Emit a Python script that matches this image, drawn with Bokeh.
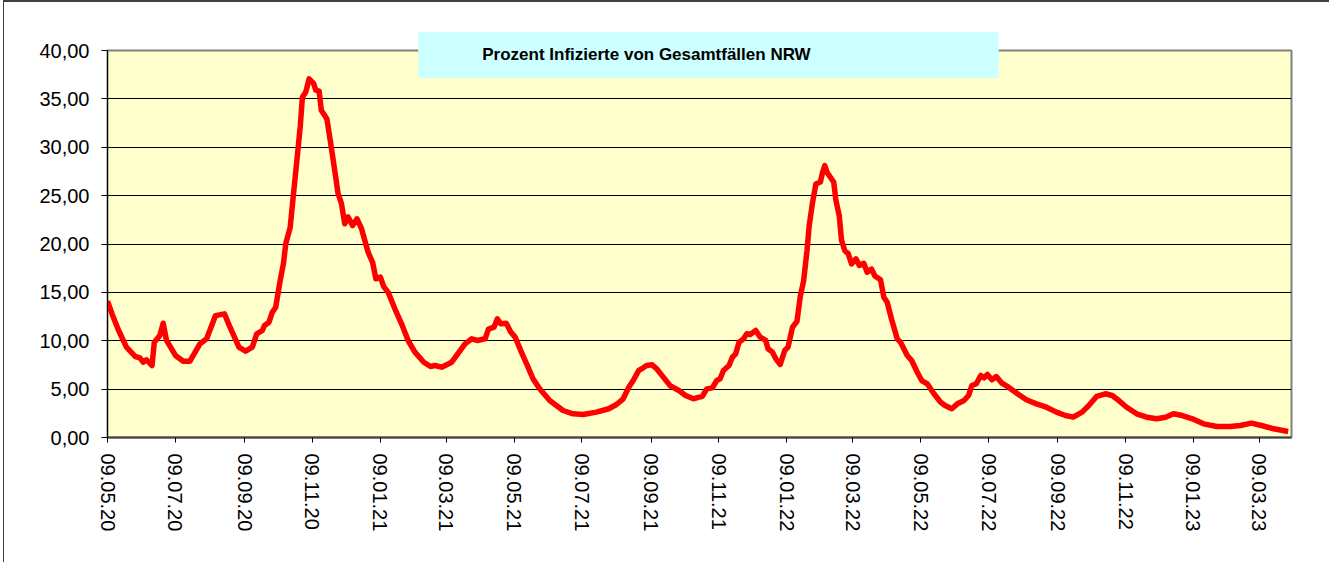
from datetime import datetime
from bokeh.plotting import figure
from bokeh.models import Range1d, FixedTicker, Label
from bokeh.embed import file_html
from bokeh.resources import INLINE

# ---------------- data ----------------
start_date = "09.05.20"
end_date = "07.04.23"

# days since start_date
day = [0, 4, 10, 17, 25, 29, 32, 35, 40, 42, 47, 50, 53, 61, 68, 74, 83, 89, 97, 105,
       110, 118, 124, 130, 134, 139, 141, 145, 148, 151, 155, 158, 160, 164, 167, 170, 173, 175, 178, 181,
       185, 187, 190, 192, 195, 197, 200, 204, 207, 210, 213, 216, 220, 224, 228, 234, 238, 241, 245, 248,
       252, 258, 264, 270, 276, 284, 290, 294, 300, 309, 321, 327, 332, 339, 342, 347, 350, 353, 358, 362,
       366, 371, 377, 382, 388, 397, 409, 418, 427, 439, 450, 457, 463, 468, 472, 477, 481, 484, 489, 493,
       499, 505, 513, 519, 526, 531, 534, 538, 543, 547, 550, 553, 558, 561, 564, 567, 571, 574, 577, 582,
       586, 591, 593, 597, 600, 604, 608, 611, 615, 619, 622, 625, 628, 630, 633, 636, 640, 642, 644, 646,
       649, 652, 654, 657, 659, 662, 665, 668, 672, 675, 679, 682, 686, 689, 694, 697, 700, 704, 709, 712,
       718, 722, 727, 731, 736, 742, 748, 752, 758, 763, 769, 773, 776, 780, 784, 787, 790, 794, 798, 803,
       809, 817, 825, 834, 843, 852, 860, 867, 875, 881, 888, 896, 902, 908, 915, 924, 933, 942, 950, 957,
       965, 974, 984, 996, 1008, 1017, 1027, 1036, 1047, 1060]

pct = [14.1, 12.8, 11.06, 9.34, 8.37, 8.24, 7.79, 8.03, 7.44, 9.85, 10.54, 11.81, 10.03, 8.48, 7.89, 7.89, 9.68, 10.2, 12.6, 12.78,
       11.4, 9.34, 8.92, 9.34, 10.72, 11.06, 11.58, 11.92, 12.95, 13.47, 16.2, 18.0, 20.0, 21.7, 25.2, 28.6, 32.1, 35.2, 35.7, 37.07,
       36.6, 35.9, 35.8, 33.8, 33.3, 32.9, 30.7, 27.6, 25.2, 24.2, 22.1, 22.8, 21.9, 22.6, 21.6, 19.15, 18.1, 16.4, 16.57, 15.6,
       15.0, 13.3, 11.75, 10.0, 8.82, 7.78, 7.34, 7.44, 7.27, 7.78, 9.68, 10.2, 10.03, 10.2, 11.2, 11.4, 12.27, 11.75, 11.8, 10.9,
       10.37, 8.99, 7.44, 6.07, 5.03, 3.82, 2.79, 2.45, 2.38, 2.62, 2.97, 3.41, 4.0, 5.2, 5.89, 6.93, 7.2, 7.44, 7.51, 7.1,
       6.24, 5.37, 4.86, 4.34, 4.0, 4.17, 4.24, 5.03, 5.13, 5.89, 6.07, 6.93, 7.44, 8.3, 8.65, 9.85, 10.2, 10.72, 10.65, 11.06,
       10.37, 10.03, 9.17, 8.82, 8.13, 7.55, 8.99, 9.34, 11.4, 12.0, 14.6, 16.2, 19.3, 21.9, 24.3, 26.2, 26.4, 27.4, 28.1, 27.4,
       26.9, 26.4, 24.5, 22.9, 20.4, 19.3, 19.0, 17.95, 18.47, 17.78, 18.0, 17.09, 17.4, 16.7, 16.3, 14.5, 13.98, 12.2, 10.2, 9.85,
       8.48, 7.96, 6.75, 5.89, 5.55, 4.52, 3.65, 3.31, 2.97, 3.48, 3.82, 4.34, 5.37, 5.55, 6.41, 6.17, 6.51, 5.96, 6.3, 5.61,
       5.2, 4.52, 3.9, 3.48, 3.13, 2.62, 2.27, 2.1, 2.62, 3.31, 4.24, 4.52, 4.34, 3.82, 3.13, 2.45, 2.1, 1.93, 2.1, 2.45,
       2.27, 1.93, 1.41, 1.14, 1.14, 1.24, 1.48, 1.24, 0.9, 0.62]

x_tick_labels = ["09.05.20", "09.07.20", "09.09.20", "09.11.20", "09.01.21", "09.03.21",
                 "09.05.21", "09.07.21", "09.09.21", "09.11.21", "09.01.22", "09.03.22",
                 "09.05.22", "09.07.22", "09.09.22", "09.11.22", "09.01.23", "09.03.23"]
y_ticks = [0, 5, 10, 15, 20, 25, 30, 35, 40]
y_tick_labels = ["0,00", "5,00", "10,00", "15,00", "20,00", "25,00", "30,00", "35,00", "40,00"]
title_text = "Prozent Infizierte von Gesamtfällen NRW"

# ---------------- helpers ----------------
def to_day(s):
    return (datetime.strptime(s, "%d.%m.%y") - datetime.strptime(start_date, "%d.%m.%y")).days

x_ticks = [to_day(s) for s in x_tick_labels]

FONT = "Liberation Sans"

p = figure(width=1326, height=562,
           x_range=Range1d(0, to_day(end_date)), y_range=Range1d(0, 40),
           output_backend="svg", toolbar_location=None,
           min_border_left=103, min_border_right=39, min_border_top=48, min_border_bottom=127,
           background_fill_color="#FFFFCC", border_fill_color="white",
           outline_line_color="#808080", outline_line_width=2)
p.styles = {"margin-left": "3px", "border-left": "1px solid #404040",
            "border-top": "2px solid #404040"}

# grid
p.xgrid.visible = False
p.ygrid.ticker = FixedTicker(ticks=y_ticks)
p.ygrid.grid_line_color = "#000000"
p.ygrid.grid_line_width = 1

# x axis
p.xaxis.ticker = FixedTicker(ticks=x_ticks)
p.xaxis.major_label_overrides = {t: l for t, l in zip(x_ticks, x_tick_labels)}
p.xaxis.major_label_orientation = "vertical"
p.xaxis.major_tick_out = 5
p.xaxis.major_tick_in = 0
p.xaxis.minor_tick_line_color = None
p.xaxis.major_label_standoff = 11
p.xaxis.axis_line_color = "#404040"
p.xaxis.axis_line_width = 2
p.xaxis.major_tick_line_color = "#000000"

# y axis
p.yaxis.ticker = FixedTicker(ticks=y_ticks)
p.yaxis.major_label_overrides = {t: l for t, l in zip(y_ticks, y_tick_labels)}
p.yaxis.major_tick_out = 6
p.yaxis.major_tick_in = 0
p.yaxis.minor_tick_line_color = None
p.yaxis.major_label_standoff = 12
p.yaxis.axis_line_color = "#000000"
p.yaxis.major_tick_line_color = "#000000"

for ax in (p.xaxis, p.yaxis):
    ax.major_label_text_font = FONT
    ax.major_label_text_font_size = "20px"
    ax.major_label_text_color = "#000000"

# data line
p.line(day, pct, line_color="#FF0000", line_width=5.5, line_join="round")

# title with cyan box (padding: left, right, top, bottom); placed in the "above"
# panel so that it is not clipped to the plot frame
p.add_layout(Label(x=279, y=39.535, text=title_text, text_align="left", text_baseline="middle",
                   text_font=FONT, text_font_style="bold", text_font_size="17px",
                   text_color="#000000", background_fill_color="#CCFFFF", background_fill_alpha=1.0,
                   border_line_color=None, padding=(64, 188, 13, 14)), "above")

open("out.html", "w").write(file_html(p, INLINE))
